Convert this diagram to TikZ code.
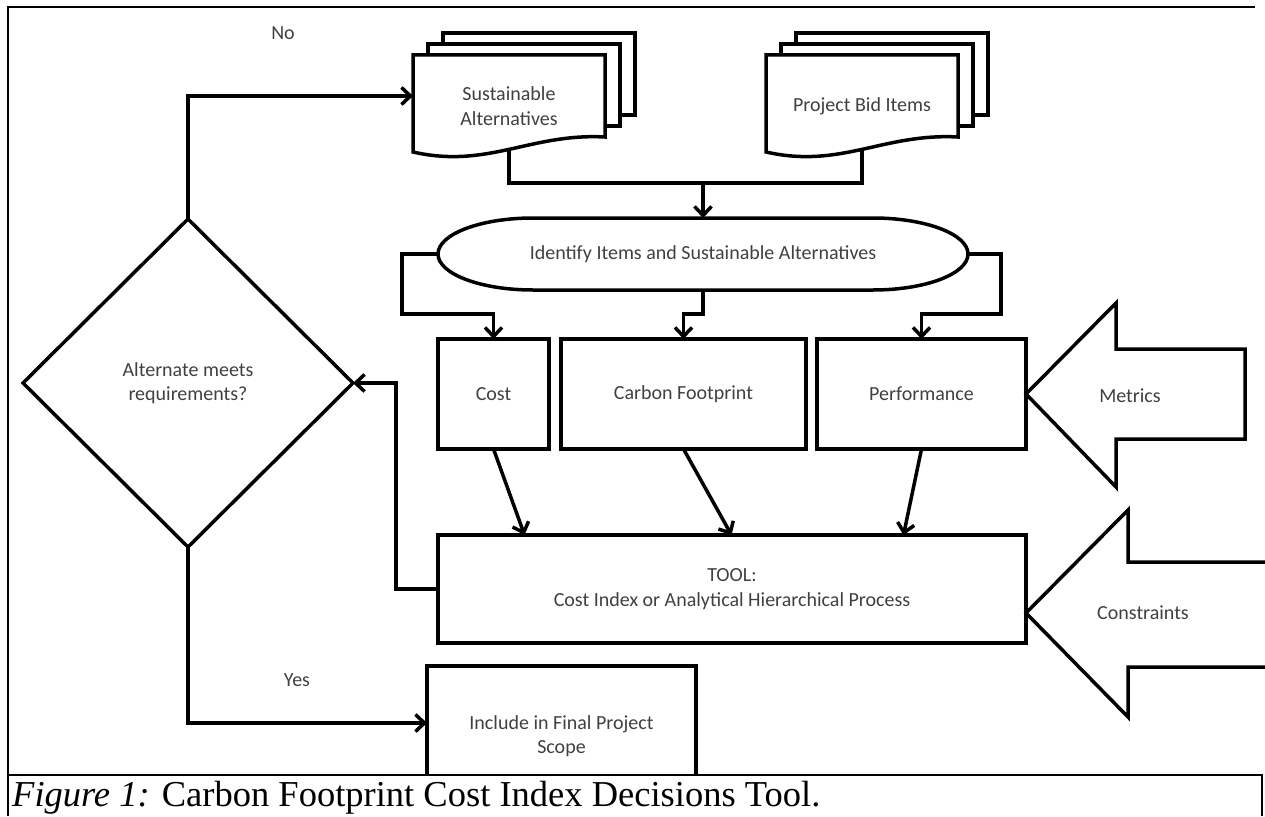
\documentclass[tikz,border=0pt]{standalone}
\usepackage{fontspec}
\setmainfont{Carlito}
\newfontfamily\capfont{Liberation Serif}
\usetikzlibrary{arrows.meta,shapes.geometric,backgrounds}

\tikzset{
  txt/.style={text=black!75, font=\fontsize{20}{24.5}\selectfont, align=center},
  box/.style={txt, draw, line width=3.5pt, inner sep=0pt, outer sep=0pt, minimum height=110pt},
  doc/.style={txt, inner sep=0pt, outer sep=0pt, minimum width=192pt, minimum height=102pt},
  page/.style={draw, fill=white, line width=3.5pt},
  conn/.style={line width=3.5pt},
  arr/.style={conn, -{Straight Barb[length=9pt,width=17pt]}},
  bigarrow/.style={draw, fill=white, line width=3.5pt},
  frame/.style={line width=2pt},
}

\begin{document}
\begin{tikzpicture}[x=1pt,y=1pt]
\useasboundingbox (0,0) rectangle (1265,-816);

% stacked documents
\node[doc] (sust) at (509,-106) {Sustainable\\Alternatives};
\node[doc] (bid) at (862,-106) {Project Bid Items};
\begin{scope}[on background layer]
  \foreach \n in {sust,bid}{
    \draw[page] ([shift={(30pt,22pt)}]\n.north west) rectangle ([shift={(30pt,42pt)}]\n.south east);
    \draw[page] ([shift={(15pt,11pt)}]\n.north west) rectangle ([shift={(15pt,31pt)}]\n.south east);
    \draw[page] (\n.north west) -- (\n.north east) -- ([yshift=20pt]\n.south east)
      .. controls +(-75,4) and +(75,-17) .. ([yshift=5pt]\n.south west) -- cycle;
  }
\end{scope}

% terminator
\node[txt, minimum width=530pt, minimum height=72pt, inner sep=0pt, outer sep=0pt] (ident) at (703,-254) {Identify Items and Sustainable Alternatives};
\draw[conn] ([xshift=95pt]ident.north west) -- ([xshift=-95pt]ident.north east)
  arc[start angle=90, end angle=-90, x radius=95pt, y radius=36pt]
  -- ([xshift=95pt]ident.south west)
  arc[start angle=270, end angle=90, x radius=95pt, y radius=36pt] -- cycle;

% boxes
\node[box, minimum width=111pt] (cost) at (493.5,-394) {Cost};
\node[box, minimum width=245pt] (carbon) at (683.5,-394) {Carbon Footprint};
\node[box, minimum width=209pt] (perf) at (921.5,-394) {Performance};
\node[box, minimum width=588pt, minimum height=108pt] (tool) at (732,-589) {TOOL:\\Cost Index or Analytical Hierarchical Process};
\node[box, minimum width=269pt, minimum height=140pt] (incl) at (561.5,-736) {Include in Final Project\\Scope};
\node[txt, draw, diamond, line width=3.5pt, minimum width=330pt, minimum height=328pt, inner sep=0pt, outer sep=0pt] (dia) at (188,-383) {Alternate meets\\requirements?};

\node[txt] (no) at (283,-33) {No};
\node[txt] (yes) at (297,-680) {Yes};

% connectors
\draw[arr] (dia.north) |- ([yshift=10pt]sust.west);
\draw[conn] ([yshift=8pt]sust.south) -- ++(0,-34) -| ([yshift=8pt]bid.south);
\coordinate (merge) at (ident.north |- 0,-183);
\draw[arr] (merge) -- (ident.north);
\draw[arr] (ident.west) -- ++(-36,0) -- ++(0,-60) -| (cost.north);
\draw[arr] (ident.south) -- ++(0,-24) -| (carbon.north);
\draw[arr] (ident.east) -- ++(33,0) -- ++(0,-60) -| (perf.north);
\draw[arr] (cost.south) -- ([xshift=31pt]cost.south |- tool.north);
\draw[arr] (carbon.south) -- ([xshift=48pt]carbon.south |- tool.north);
\draw[arr] (perf.south) -- ([xshift=-18pt]perf.south |- tool.north);
\draw[arr] (tool.west) -- ++(-42,0) |- (dia.east);
\draw[arr] (dia.south) |- ([yshift=13pt]incl.west);

% block arrows
\draw[bigarrow] (perf.east) -- ++(90,91) -- ++(0,-46) -- ++(129,0) -- ++(0,-90) -- ++(-129,0) -- ++(0,-48) -- cycle;
\node[txt] (metrics) at (1130,-396) {Metrics};
\draw[bigarrow] ([yshift=-24pt]tool.east) -- ++(102,103) -- ++(0,-52) -- ++(150,0) -- ++(0,-105) -- ++(-150,0) -- ++(0,-50) -- cycle;
\node[txt] (constr) at (1143,-613) {Constraints};

% caption row
\fill[white] (8,-775) rectangle (1262,-816);
\draw[frame] (8,-775) -- (1262,-775) -- (1262,-816);
\draw[frame] (1255,-7) -- (8,-7) -- (8,-816);
\node[anchor=base west, inner sep=0pt, font=\capfont\fontsize{36.5}{40}\selectfont] (caption) at (12,-806) {\textit{Figure 1:} Carbon Footprint Cost Index Decisions Tool.};
\end{tikzpicture}
\end{document}
